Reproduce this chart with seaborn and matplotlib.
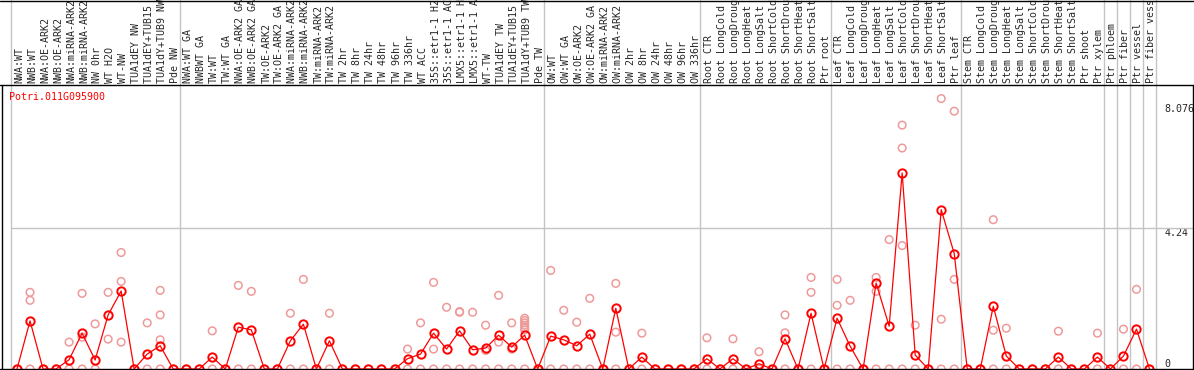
import matplotlib
matplotlib.use("Agg")
import matplotlib.pyplot as plt
import matplotlib.transforms as mtransforms
import seaborn as sns
import numpy as np
from matplotlib.lines import Line2D

# ---------------- data ----------------
gene_id = "Potri.011G095900"

labels_nw = ["NWA:WT", "NWB:WT", "NWA:OE-ARK2", "NWB:OE-ARK2", "NWA:miRNA-ARK2",
             "NWB:miRNA-ARK2", "NW 0hr", "WT H2O", "WT-NW", "TUA1dEY NW",
             "TUA1dEY+TUB15 NW", "TUA1dY+TUB9 NW", "Pde NW"]
labels_tw = ["NWA:WT GA", "NWBWT GA", "TW:WT", "TW:WT GA", "NWA:OE-ARK2 GA",
             "NWB:OE-ARK2 GA", "TW:OE-ARK2", "TW:OE-ARK2 GA", "NWA:miRNA-ARK2 GA",
             "NWB:miRNA-ARK2 GA", "TW:miRNA-ARK2", "TW:miRNA-ARK2 GA", "TW 2hr",
             "TW 8hr", "TW 24hr", "TW 48hr", "TW 96hr", "TW 336hr", "WT ACC",
             "35S::etr1-1 H2O", "35S::etr1-1 ACC", "LMX5::etr1-1 H2O",
             "LMX5::etr1-1 ACC", "WT-TW", "TUA1dEY TW", "TUA1dEY+TUB15 TW",
             "TUA1dY+TUB9 TW", "Pde TW"]
labels_ow = ["OW:WT", "OW:WT GA", "OW:OE-ARK2", "OW:OE-ARK2 GA", "OW:miRNA-ARK2",
             "OW:miRNA-ARK2 GA", "OW 2hr", "OW 8hr", "OW 24hr", "OW 48hr",
             "OW 96hr", "OW 336hr"]
labels_root = ["Root CTR", "Root LongCold", "Root LongDrought", "Root LongHeat",
               "Root LongSalt", "Root ShortCold", "Root ShortDrought",
               "Root ShortHeat", "Root ShortSalt", "Ptr root"]
labels_leaf = ["Leaf CTR", "Leaf LongCold", "Leaf LongDrought", "Leaf LongHeat",
               "Leaf LongSalt", "Leaf ShortCold", "Leaf ShortDrought",
               "Leaf ShortHeat", "Leaf ShortSalt", "Ptr leaf"]
labels_stem = ["Stem CTR", "Stem LongCold", "Stem LongDrought", "Stem LongHeat",
               "Stem LongSalt", "Stem ShortCold", "Stem ShortDrought",
               "Stem ShortHeat", "Stem ShortSalt", "Ptr shoot", "Ptr xylem"]
labels_ptr = ["Ptr phloem", "Ptr fiber", "Ptr vessel", "Ptr fiber vessel"]

means_nw = [0, 1.45, 0, 0, 0.28, 1.08, 0.27, 1.63, 2.35, 0, 0.45, 0.70, 0]
means_tw = [0, 0, 0.36, 0, 1.26, 1.18, 0, 0, 0.85, 1.35, 0, 0.85, 0, 0, 0, 0, 0,
            0.31, 0.45, 1.08, 0.60, 1.15, 0.58, 0.63, 1.02, 0.66, 1.02, 0]
means_ow = [0.99, 0.88, 0.70, 1.05, 0, 1.83, 0, 0.36, 0, 0, 0, 0]
means_root = [0.31, 0, 0.31, 0, 0.16, 0, 0.91, 0, 1.68, 0]
means_leaf = [1.53, 0.69, 0, 2.59, 1.29, 5.91, 0.42, 0, 4.80, 3.48]
means_stem = [0, 0, 1.89, 0.39, 0, 0, 0, 0.36, 0, 0, 0.36]
means_ptr = [0, 0.39, 1.20, 0]

reps_nw = [[0], [2.31, 2.07, 0], [0], [0], [0.81, 0], [2.28, 0.96, 0], [1.36, 0],
           [2.31, 0.90], [3.51, 2.64, 0.81], [0], [1.39, 0], [2.37, 1.63, 0.88, 0], [0]]
reps_tw = [[0], [0], [1.15, 0], [0], [2.52, 0], [2.34, 0], [0], [0], [1.68, 0],
           [2.70, 0], [0], [1.68, 0], [0], [0], [0], [0], [0], [0.60, 0],
           [1.39, 0], [2.61, 0.60, 0], [1.86, 0], [1.73, 1.71, 0], [1.71, 0],
           [1.32, 0.56, 0], [2.22, 0.81, 0], [1.39, 0.60, 0],
           [1.53, 1.46, 1.39, 1.32, 1.25, 1.18, 0], [0]]
reps_ow = [[2.97, 0], [1.77, 0], [1.41, 0], [2.13, 0], [0], [2.58, 1.11, 0], [0],
           [1.08, 0], [0], [0], [0], [0]]
reps_root = [[0.94, 0], [0], [0.91, 0], [0], [0.52, 0], [0], [1.63, 1.09, 0], [0],
             [2.76, 2.31, 0], [0]]
reps_leaf = [[2.70, 1.92, 0], [2.07, 0], [0], [2.76, 2.34, 0], [3.90, 0],
             [7.35, 6.66, 3.72, 0], [1.32, 0], [0], [8.15, 1.50, 0], [7.77, 2.70, 0]]
reps_stem = [[0], [0], [4.50, 1.17, 0], [1.23, 0], [0], [0], [0], [1.14, 0], [0],
             [0], [1.08, 0]]
reps_ptr = [[0], [1.20, 0], [2.40, 0], [0]]

tick_values = [0, 4.24, 8.076]
tick_labels = ["0", "4.24", "8.076"]

# ---------------- assemble ----------------
groups_labels = [labels_nw, labels_tw, labels_ow, labels_root, labels_leaf, labels_stem, labels_ptr]
labels = sum(groups_labels, [])
means = means_nw + means_tw + means_ow + means_root + means_leaf + means_stem + means_ptr
reps = reps_nw + reps_tw + reps_ow + reps_root + reps_leaf + reps_stem + reps_ptr
n = len(labels)
idx = np.arange(n)
rep_x = [i for i, r in enumerate(reps) for _ in r]
rep_y = [v for r in reps for v in r]

# group boundaries, plus single-sample Ptr columns
sizes = [len(g) for g in groups_labels]
bounds = list(np.cumsum([0] + sizes[:-1]) - 0.5)
bounds += [n - 4 - 0.5 + k for k in range(1, 5)]

# ---------------- figure ----------------
sns.set_style("white")
plt.rcParams['font.family'] = ['DejaVu Sans Mono']

W, H = 1194, 370
fig = plt.figure(figsize=(W / 100, H / 100), dpi=100)
x0, x1 = 10.5, 1156.0
y_top, y_zero = 85.3, 369.0
ax = fig.add_axes([x0 / W, (H - y_zero) / H, (x1 - x0) / W, (y_zero - y_top) / H])
ax.set_xlim(-0.5, n - 0.5)
ax.set_ylim(0, 8.55)
for s in ax.spines.values():
    s.set_visible(False)

grey = "#c4c4c4"
ext_top = 1 + y_top / (y_zero - y_top)
for b in bounds:
    ax.axvline(b, ymin=0, ymax=ext_top, color=grey, lw=1, clip_on=False, zorder=1)
ax.axhline(4.24, xmin=0, xmax=(W - x0) / (x1 - x0), color=grey, lw=1,
           clip_on=False, zorder=1)

sns.scatterplot(x=rep_x, y=rep_y, ax=ax, marker="o", s=30, color="#ef9a9a",
                facecolor="none", edgecolor="#ef9a9a", linewidth=1.1,
                clip_on=False, zorder=2)
sns.lineplot(x=idx, y=means, ax=ax, color="red", lw=0.9, marker="o",
             markersize=6, markerfacecolor="none", markeredgecolor="red",
             markeredgewidth=1.4, clip_on=False, zorder=3)

ax.set_xlabel("")
ax.set_ylabel("")
ax.xaxis.tick_top()
ax.set_xticks(idx)
ax.set_xticklabels(labels, rotation=90, fontsize=7.2)
ax.tick_params(axis="x", length=0, pad=2)
shift_x = mtransforms.ScaledTranslation(2 / 100, 0, fig.dpi_scale_trans)
for lab in ax.get_xticklabels():
    lab.set_transform(lab.get_transform() + shift_x)

ax.yaxis.tick_right()
ax.set_yticks(tick_values)
ax.set_yticklabels(tick_labels, fontsize=7.2)
ax.tick_params(axis="y", length=0, pad=6)
for lab, v in zip(ax.get_yticklabels(), tick_values):
    lab.set_verticalalignment("bottom" if v == 0 else "top")
    if v == tick_values[-1]:
        lab.set_transform(lab.get_transform() +
                          mtransforms.ScaledTranslation(0, -3 / 100, fig.dpi_scale_trans))

fig.text(9.3 / W, 1 - 97 / H, gene_id, color="red", fontsize=7.2, va="center", ha="left")

# frame lines (figure pixel coordinates)
def hline(y, xa=0, xb=W):
    fig.add_artist(Line2D([xa / W, xb / W], [1 - y / H, 1 - y / H], color="black", lw=1))

def vline(x, ya, yb):
    fig.add_artist(Line2D([x / W, x / W], [1 - ya / H, 1 - yb / H], color="black", lw=1))

hline(0.5)
hline(y_top)
hline(y_zero)
vline(1.5, y_top, H)
vline(W - 1.0, y_top, H)

fig.savefig("out.png", dpi=100)
